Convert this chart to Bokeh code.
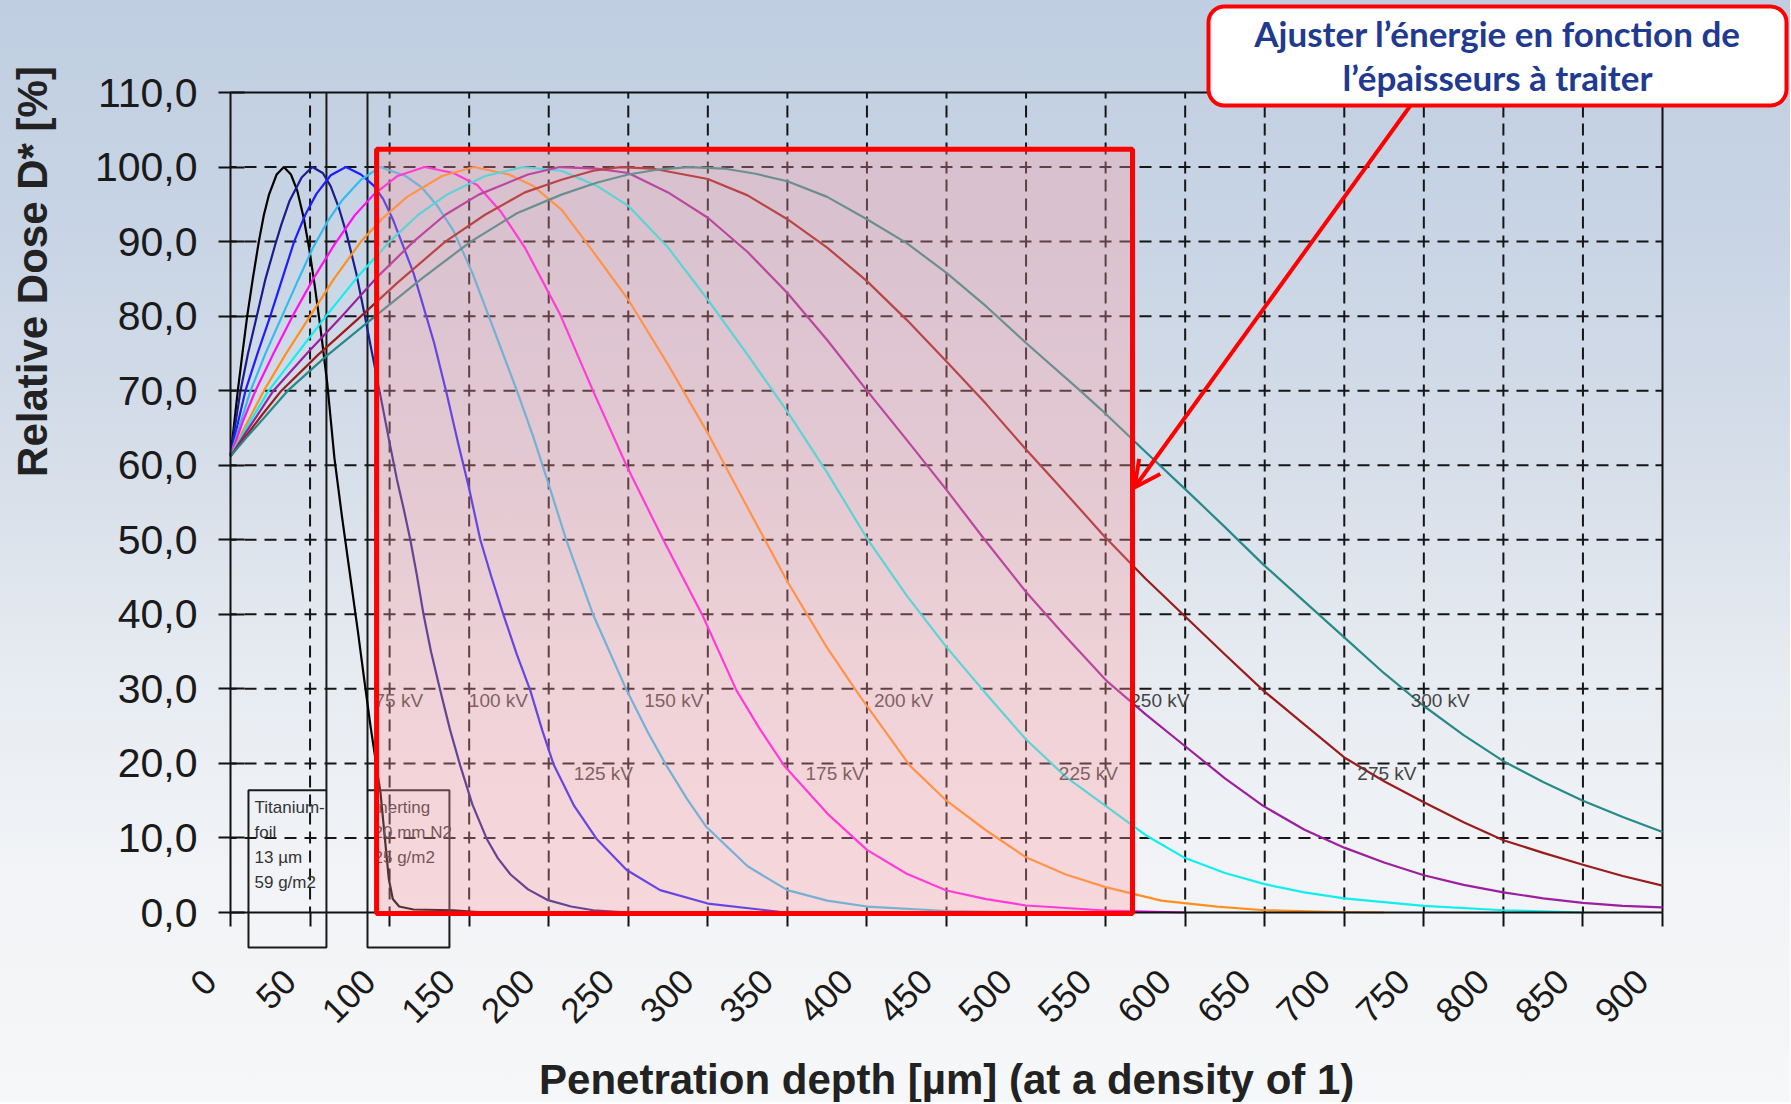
import math
from bokeh.plotting import figure
from bokeh.models import (Range1d, FixedTicker, Label, BoxAnnotation, Arrow,
                          OpenHead, ColumnDataSource)
from bokeh.core.properties import value
from bokeh.embed import file_html
from bokeh.resources import INLINE

# ---------------- data ----------------
x_ticks = list(range(0, 901, 50))
x_tick_labels = [str(v) for v in x_ticks]
y_ticks = list(range(0, 111, 10))
y_tick_labels = ["0,0", "10,0", "20,0", "30,0", "40,0", "50,0", "60,0",
                 "70,0", "80,0", "90,0", "100,0", "110,0"]

kv_names = ["75 kV", "100 kV", "125 kV", "150 kV", "175 kV",
            "200 kV", "225 kV", "250 kV", "275 kV", "300 kV"]
kv_label_x = [90.5, 149.8, 215.8, 260.0, 361.4, 404.4, 520.6, 565.5, 708.2, 741.7]
kv_label_y = [28.5, 28.5, 18.6, 28.5, 18.6, 28.5, 18.6, 28.5, 18.6, 28.5]

d75_x = [0, 2, 4.6, 7.5, 10.5, 14, 17.8, 21, 24.2, 29, 33.5, 38, 42, 46, 49.5, 53,
         56.5, 60.8, 65.3, 70, 75, 80, 84.2, 88, 91.5, 94.3, 97, 99.5, 102, 106,
         115, 140, 160]
d75_y = [61.2, 65, 70, 75, 80, 85, 90, 93.6, 96.3, 99, 100, 99, 96.8, 93.2, 89, 84,
         78.5, 71, 61, 53.2, 45.5, 37.8, 31, 25, 20, 16, 10, 4.5, 1.8, 0.8,
         0.4, 0.3, 0]

d100_x = [0, 3, 6.3, 11, 16.5, 22, 28, 32, 37, 44.7, 51.4, 58, 63, 68, 73, 79, 84,
          89, 95, 100, 104.6, 109, 113, 117, 121.4, 126, 131.8, 138, 144.4, 152,
          161, 168, 176, 187, 199, 214, 228, 250]
d100_y = [61.2, 65.5, 70, 75, 80, 85, 89.5, 92.3, 95.4, 98.6, 100, 99.2, 97.4, 94.6,
          91, 85.8, 80.5, 75, 68.5, 63, 58.1, 54, 50, 45.4, 39.9, 35, 29.8, 24.5,
          19.7, 14.5, 9.9, 7.3, 5.1, 3.1, 1.7, 0.8, 0.3, 0]

d125_x = [0, 5, 9.4, 17, 25, 32.5, 40, 47, 54, 63, 72.5, 82, 90, 96, 102, 115, 128,
          136, 143, 149.6, 157, 164, 171.6, 180, 188.4, 196, 203, 216, 230, 249,
          270, 300, 345, 380]
d125_y = [61.2, 66, 70, 75, 80, 85, 90, 93.6, 96.4, 98.9, 100, 99, 97.5, 95.7, 93,
          85.8, 76.4, 69.5, 63, 57.2, 50, 45, 39.9, 34.6, 29.8, 24.4, 19.9, 14.3,
          9.9, 5.7, 3, 1.2, 0.1, 0]

d150_x = [0, 6, 12.6, 22, 32, 42, 51.4, 61, 70, 82, 94, 110, 120, 130, 140, 152, 168,
          180, 190, 199, 211, 228, 249, 262, 274, 287, 299, 325, 350, 375, 400, 450,
          500]
d150_y = [61.2, 65.5, 70, 75, 79.8, 84.6, 89, 92.7, 95.5, 98.3, 100, 98.8, 97.3,
          94.8, 91.5, 85.8, 76.8, 70, 64, 58.1, 50, 39.9, 29.8, 24.3, 19.7, 15.2,
          11.5, 6.2, 3, 1.6, 0.8, 0.2, 0]

d175_x = [0, 8, 15.7, 27, 39, 52, 65, 78, 90, 105, 122, 140, 155, 170, 185, 207, 228,
          249, 272, 297, 318, 333, 348, 375, 400, 425, 450, 475, 500, 550, 600]
d175_y = [61.2, 66, 70, 75, 80, 85, 89.5, 93.5, 96.3, 98.8, 100, 99.2, 97.6, 94, 89.2,
          80.3, 69.9, 59.9, 50, 39.7, 29.8, 24.5, 19.7, 13.3, 8.4, 5.2, 2.95, 1.8,
          0.94, 0.27, 0]

d200_x = [0, 10, 21, 35, 50, 65, 82, 96, 111, 133, 153, 175, 190, 208, 225, 250, 275,
          300, 325, 350, 375, 396, 427, 450, 475, 500, 525, 550, 585, 620, 650, 690,
          725]
d200_y = [61.2, 65.5, 70, 75, 80, 85, 90, 93.2, 96, 98.8, 100, 99, 97.5, 94.3, 89.5,
          82.2, 73.5, 64.3, 54.3, 44.4, 35.5, 28.9, 19.7, 15, 11, 7.4, 5.1, 3.4,
          1.6, 0.8, 0.3, 0.1, 0]

d225_x = [0, 10, 24, 42, 60, 80, 100, 118, 136, 160, 184, 208, 230, 250, 275, 300,
          325, 350, 375, 400, 425, 450, 475, 500, 525, 550, 575, 600, 625, 650, 675,
          700, 750, 800, 850]
d225_y = [61.2, 65, 70, 75, 80, 85.3, 90, 93.6, 96.3, 98.8, 100, 99.5, 97.5, 94.8,
          89.2, 82.2, 74.8, 67.2, 59, 50.2, 42.5, 35.6, 29.3, 23.2, 18.2, 14.3, 10.4,
          7.3, 5.3, 3.8, 2.7, 1.9, 0.9, 0.3, 0]

d250_x = [0, 10, 27, 48, 70, 92, 115, 135, 156, 187, 207, 230, 250, 275, 300, 325,
          350, 375, 400, 425, 450, 474, 500, 525, 551, 575, 600, 625, 649, 675, 700,
          725, 750, 775, 800, 825, 850, 875, 900]
d250_y = [61.2, 64.5, 70, 75, 80, 85.2, 90, 93.6, 96.3, 99, 100, 99.8, 99.2, 96.6,
          93.2, 88.6, 83.1, 76.8, 70, 63.4, 56.7, 50, 43, 37, 31, 26.6, 22.3, 18,
          14.3, 11.1, 8.7, 6.7, 5, 3.7, 2.7, 1.9, 1.3, 0.9, 0.7]

d275_x = [0, 10, 20, 32, 55, 80, 105, 135, 160, 185, 208, 228, 245, 265, 300, 325,
          350, 375, 400, 425, 450, 475, 500, 520, 534, 549, 575, 600, 625, 649, 675,
          700, 725, 750, 775, 800, 825, 850, 875, 900]
d275_y = [61.2, 64, 66.8, 70, 74.8, 79.6, 84.5, 90, 93.6, 96.6, 98.3, 99.5, 100, 99.8,
          98.4, 96.2, 93, 89.2, 84.7, 79.5, 73.9, 68.2, 62.1, 57.4, 54.1, 50.5, 44.8,
          39.7, 34.6, 29.8, 25.2, 20.8, 17.6, 14.8, 12.1, 9.7, 8, 6.4, 4.9, 3.6]

d300_x = [0, 10, 20, 36, 60, 91, 120, 151, 180, 208, 230, 250, 270, 288, 310, 330,
          350, 375, 400, 425, 450, 475, 500, 534, 547, 575, 600, 625, 649, 675, 700,
          725, 750, 775, 800, 825, 850, 875, 900]
d300_y = [61.2, 63.7, 66.1, 70, 74.6, 80, 85, 90, 93.8, 96.3, 97.9, 99, 99.7, 100,
          99.8, 99.1, 98.1, 96, 93, 89.8, 85.8, 81.3, 76.4, 70, 67.5, 61.8, 56.8,
          51.7, 46.7, 41.7, 36.9, 32.1, 27.7, 23.8, 20.3, 17.5, 15, 12.8, 10.8]

curves_x = [d75_x, d100_x, d125_x, d150_x, d175_x, d200_x, d225_x, d250_x, d275_x, d300_x]
curves_y = [d75_y, d100_y, d125_y, d150_y, d175_y, d200_y, d225_y, d250_y, d275_y, d300_y]
curve_colors = ["#000000", "#1c1c8c", "#1e1eff", "#33bbee", "#ff10f0",
                "#ff9020", "#11eeee", "#9b1f9f", "#9a1c1c", "#268a88"]

# layers crossed before the product (µm at density 1)
foil_x = [11.3, 60.3]
inert_x = [86.1, 137.6]
layer_top = 16.4
layer_bottom = -4.7
foil_lines = ["Titanium-", "foil", "13 µm", "59 g/m2"]
inert_lines = ["Inerting", "20 mm N2", "25 g/m2"]

# highlighted treatment zone
zone_x = [91.8, 566.9]
zone_top = 102.4

# ---------------- layout helpers (page pixels -> data units) ----------------
FL, FR, FT, FB = 230, 1662, 92, 912     # chart area on the page


def dx(X):
    return (X - FL) * 900.0 / (FR - FL)


def dy(Y):
    return (FB - Y) * 110.0 / (FB - FT)


W, H = 1790, 1102
p = figure(width=W, height=H,
           x_range=Range1d(dx(0), dx(W)), y_range=Range1d(dy(H), dy(0)),
           output_backend="svg", toolbar_location=None,
           min_border=0, min_border_left=0, min_border_right=0,
           min_border_top=0, min_border_bottom=0)
p.styles = {"background-image": "linear-gradient(180deg, #bfcee1 0%, #c9d5e5 22%, "
                                "#d6dee9 42%, #e6ebf1 60%, #f1f3f6 78%, #f6f7f8 100%)"}
p.background_fill_alpha = 0
p.border_fill_alpha = 0
p.outline_line_color = None
p.xgrid.visible = False
p.ygrid.visible = False

# axes drawn at the chart's origin
for ax in (p.xaxis, p.yaxis):
    ax.axis_line_color = "#111111"
    ax.axis_line_width = 2
    ax.major_tick_line_color = "#111111"
    ax.major_tick_line_width = 2
    ax.minor_tick_line_color = None
    ax.major_label_text_font = "Liberation Sans"
    ax.major_label_text_color = "#1a1a1a"

p.xaxis.fixed_location = 0
p.xaxis.bounds = (0, 900)
p.xaxis.ticker = FixedTicker(ticks=x_ticks)
p.xaxis.major_label_overrides = {t: s + "\u00a0\u00a0\u00a0" for t, s in zip(x_ticks, x_tick_labels)}
p.xaxis.major_label_orientation = math.pi / 4
p.xaxis.major_label_text_font_size = "35px"
p.xaxis.major_tick_out = 14
p.xaxis.major_tick_in = 0
p.xaxis.major_label_standoff = 28

p.yaxis.fixed_location = 0
p.yaxis.bounds = (0, 110)
p.yaxis.ticker = FixedTicker(ticks=y_ticks)
p.yaxis.major_label_overrides = {t: s for t, s in zip(y_ticks, y_tick_labels)}
p.yaxis.major_label_text_font_size = "41px"
p.yaxis.major_tick_out = 12
p.yaxis.major_tick_in = 14
p.yaxis.major_label_standoff = 21

# dashed grid inside the chart area
gx = x_ticks[1:-1]
gy = y_ticks[1:-1]
p.segment(x0=gx, y0=[0] * len(gx), x1=gx, y1=[110] * len(gx),
          line_color="#151515", line_width=2,
          line_dash="12 7 12 7 12 6 12 7 12 7 12 6 12 7 12 6", line_dash_offset=6)
p.segment(x0=[0] * len(gy), y0=gy, x1=[900] * len(gy), y1=gy,
          line_color="#151515", line_width=2,
          line_dash="12 8 12 8 12 8 12 8 12 8 12 8 12 8 12 7", line_dash_offset=6)
# chart border (top and right)
p.segment(x0=[0, 900], y0=[110, 0], x1=[900, 900], y1=[110, 110],
          line_color="#111111", line_width=2)

# layer separation lines from the top of the chart down to the boxes
p.segment(x0=[foil_x[1], inert_x[0]], y0=[110, 110],
          x1=[foil_x[1], inert_x[0]], y1=[layer_top, layer_top],
          line_color="#1a1a1a", line_width=2)

# dose curves
for xs, ys, c in zip(curves_x, curves_y, curve_colors):
    p.line(xs, ys, line_color=c, line_width=2.2, line_join="round")

# energy labels
src = ColumnDataSource(dict(x=kv_label_x, y=kv_label_y, t=kv_names))
p.text(x="x", y="y", text="t", source=src, text_font=value("Liberation Sans"),
       text_font_size="19px", text_color="#444444", text_baseline="middle",
       text_align="left")

# layer boxes
for xs in (foil_x, inert_x):
    p.add_layout(BoxAnnotation(left=xs[0], right=xs[1], top=layer_top, bottom=layer_bottom,
                               fill_color=None, line_color="#1a1a1a", line_alpha=1.0,
                               line_width=2))
for i, s in enumerate(foil_lines):
    p.add_layout(Label(x=dx(254), y=dy(806.7 + 25 * i), text=s, text_font="Liberation Sans",
                       text_font_size="17px", text_color="#333333",
                       text_baseline="middle", text_align="left"))
for i, s in enumerate(inert_lines):
    p.add_layout(Label(x=dx(373), y=dy(806.7 + 25 * i), text=s, text_font="Liberation Sans",
                       text_font_size="17px", text_color="#333333",
                       text_baseline="middle", text_align="left"))

# highlighted zone
p.add_layout(BoxAnnotation(left=zone_x[0], right=zone_x[1], bottom=-0.15, top=zone_top,
                           fill_color="#ff9aa2", fill_alpha=0.32,
                           line_color="#ff0000", line_alpha=1.0, line_width=5))

# callout arrow and box
p.add_layout(Arrow(end=OpenHead(size=26, line_color="#ff0000", line_width=4),
                   x_start=dx(1410), y_start=dy(105), x_end=dx(1134), y_end=dy(487),
                   line_color="#ff0000", line_width=4))
p.add_layout(BoxAnnotation(left=dx(1208), right=dx(1786), top=dy(6), bottom=dy(105),
                           fill_color="#ffffff", fill_alpha=1.0,
                           line_color="#ff0000", line_alpha=1.0, line_width=4,
                           border_radius=16))
p.add_layout(Label(x=dx(1497), y=dy(32), text="Ajuster l’énergie en fonction de",
                   text_font="Lato", text_font_style="bold", text_font_size="35px",
                   text_color="#1f3a8f", text_align="center", text_baseline="middle"))
p.add_layout(Label(x=dx(1497), y=dy(76), text="l’épaisseurs à traiter",
                   text_font="Lato", text_font_style="bold", text_font_size="35px",
                   text_color="#1f3a8f", text_align="center", text_baseline="middle"))

# axis titles
p.add_layout(Label(x=dx(32), y=dy(271), text="Relative Dose D* [%]", angle=math.pi / 2,
                   text_font="Liberation Sans", text_font_style="bold",
                   text_font_size="42px", text_color="#222222",
                   text_align="center", text_baseline="middle"))
p.add_layout(Label(x=dx(952), y=dy(1079), text="Penetration depth [µm]  (at a density of 1)",
                   text_font="Liberation Sans", text_font_style="bold",
                   text_font_size="42px", text_color="#222222",
                   text_align="center", text_baseline="middle"))

open("out.html", "w").write(file_html(p, INLINE))
